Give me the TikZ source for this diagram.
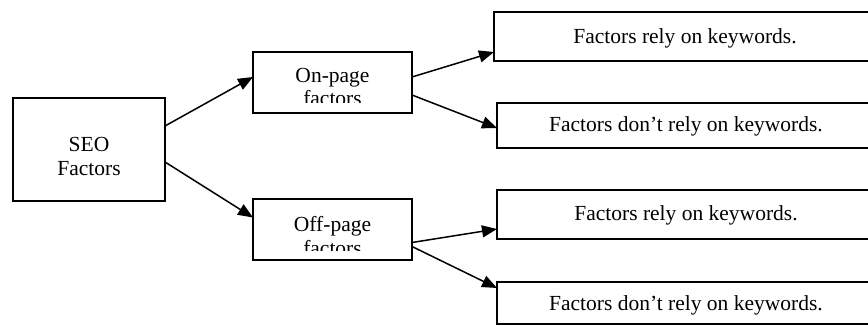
\documentclass[tikz,border=0pt]{standalone}
\usepackage{fontspec}
\setmainfont{Liberation Serif}
\usetikzlibrary{arrows.meta}
\tikzset{
  box/.style={draw=black, line width=1.3pt, rectangle, anchor=north west, inner sep=0pt, outer sep=0pt},
  txt/.style={inner sep=0pt, anchor=base, font=\fontsize{21.5}{24}\selectfont},
  conn/.style={line width=1.5pt, -{Triangle[length=15pt,width=12pt]}}
}
\begin{document}
\begin{tikzpicture}[x=1pt,y=-1pt]
\useasboundingbox (0,0) rectangle (868,326);
\clip (0,0) rectangle (868,326);
\fill[white] (0,0) rectangle (868,326);
% boxes
\node[box, minimum width=152pt, minimum height=103pt] (seo) at (13,98) {};
\node[box, minimum width=159pt, minimum height=61pt] (on) at (253,52) {};
\node[box, minimum width=159pt, minimum height=61pt] (off) at (253,199) {};
\node[box, minimum width=382pt, minimum height=49pt] (b1) at (494,12) {};
\node[box, minimum width=379pt, minimum height=45pt] (b2) at (497,103) {};
\node[box, minimum width=379pt, minimum height=49pt] (b3) at (497,190) {};
\node[box, minimum width=379pt, minimum height=42pt] (b4) at (497,282) {};
% texts
\node[txt] (seot1) at (89,152) {SEO};
\node[txt] (seot2) at (89,176) {Factors};
\begin{scope}
  \clip (254,53) rectangle (411,103);
  \node[txt] (ont1) at (332.5,82.5) {On-page};
  \node[txt] (ont2) at (332.5,106) {factors};
\end{scope}
\begin{scope}
  \clip (254,200) rectangle (411,250.5);
  \node[txt] (offt1) at (332.5,232) {Off-page};
  \node[txt] (offt2) at (332.5,255) {factors};
\end{scope}
\node[txt] (b1t) at (685,43.5) {Factors rely on keywords.};
\node[txt] (b2t) at (686,132) {Factors don’t rely on keywords.};
\node[txt] (b3t) at (686,221) {Factors rely on keywords.};
\node[txt] (b4t) at (686,310) {Factors don’t rely on keywords.};
% connectors
\draw[conn] ([yshift=23.5pt]seo.east) -- ([yshift=5.5pt]on.west);
\draw[conn] ([yshift=-12.5pt]seo.east) -- ([yshift=12pt]off.west);
\draw[conn] ([yshift=5.5pt]on.east) -- ([yshift=-15.5pt]b1.west);
\draw[conn] ([yshift=-12.5pt]on.east) -- ([yshift=-2.5pt]b2.west);
\draw[conn] ([yshift=-13pt]off.east) -- ([yshift=-14.5pt]b3.west);
\draw[conn] ([yshift=-17pt]off.east) -- ([yshift=15pt]b4.west);
\end{tikzpicture}
\end{document}
